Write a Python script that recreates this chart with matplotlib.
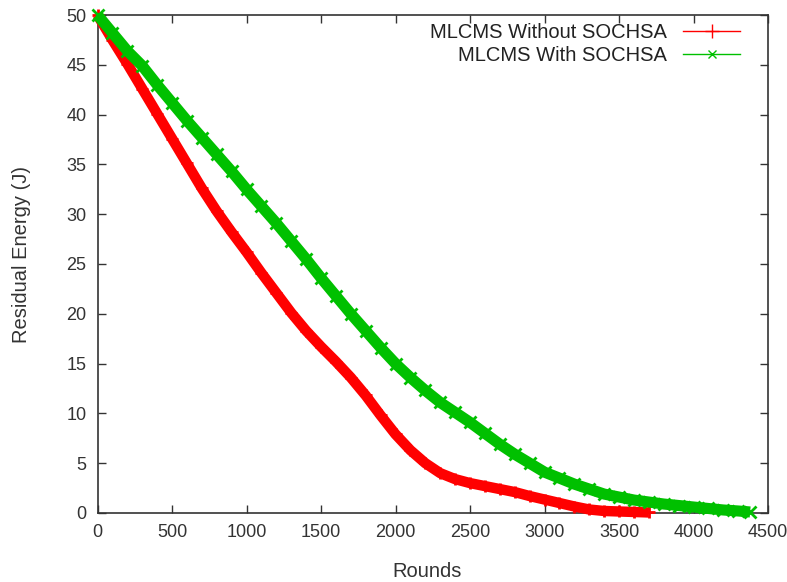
import matplotlib
matplotlib.use("Agg")
import matplotlib.pyplot as plt
from matplotlib.lines import Line2D

plt.rcParams['font.family'] = ['Liberation Sans', 'DejaVu Sans']

rounds_red = [0, 100, 200, 300, 400, 500, 600, 700, 800, 900, 1000, 1100, 1200, 1300,
              1400, 1500, 1600, 1700, 1800, 1900, 2000, 2100, 2200, 2300, 2400, 2500,
              2600, 2700, 2800, 2900, 3000, 3100, 3200, 3300, 3400, 3500, 3600, 3700]
energy_red = [50, 47.5, 45.1, 42.6, 40.1, 37.6, 35.1, 32.6, 30.3, 28.2, 26.2, 24.1, 22.1, 20.1,
              18.3, 16.7, 15.2, 13.6, 11.8, 9.8, 7.9, 6.3, 5.0, 4.0, 3.4, 3.0,
              2.7, 2.4, 2.1, 1.7, 1.35, 1.0, 0.65, 0.35, 0.2, 0.15, 0.1, 0.05]

rounds_green = [0, 100, 200, 300, 400, 500, 600, 700, 800, 900, 1000, 1100, 1200, 1300,
                1400, 1500, 1600, 1700, 1800, 1900, 2000, 2100, 2200, 2300, 2400, 2500,
                2600, 2700, 2800, 2900, 3000, 3100, 3200, 3300, 3400, 3500, 3600, 3700,
                3800, 3900, 4000, 4100, 4200, 4300, 4380]
energy_green = [50, 48.2, 46.4, 44.9, 43.0, 41.2, 39.4, 37.7, 36.0, 34.3, 32.5, 30.8, 29.1, 27.3,
                25.5, 23.6, 21.8, 20.0, 18.3, 16.6, 15.0, 13.6, 12.3, 11.1, 10.1, 9.1,
                8.0, 6.9, 5.9, 5.0, 4.1, 3.5, 2.9, 2.4, 1.9, 1.6, 1.3, 1.1,
                0.9, 0.75, 0.6, 0.45, 0.3, 0.2, 0.1]

labels = ["MLCMS Without SOCHSA", "MLCMS With SOCHSA"]
red = "#ff0000"
green = "#00c000"
txt = '#333333'

fig = plt.figure(figsize=(7.87, 5.82), dpi=100)
ax = fig.add_axes([0.1239, 0.1186, 0.9759 - 0.1239, 0.9742 - 0.1186])

ax.plot(rounds_red, energy_red, color=red, lw=7.5, solid_capstyle='butt', clip_on=False, zorder=3)
ax.plot(rounds_red, energy_red, color=red, lw=0, marker='+', ms=9, mew=2, clip_on=False, zorder=3)
ax.plot(rounds_green, energy_green, color=green, lw=8, solid_capstyle='butt', clip_on=False, zorder=4)
ax.plot(rounds_green, energy_green, color=green, lw=0, marker='x', ms=8, mew=2, clip_on=False, zorder=4)

ax.set_xlim(0, 4500)
ax.set_ylim(0, 50)
ax.set_xticks(range(0, 4501, 500))
ax.set_yticks(range(0, 51, 5))
ax.tick_params(direction='in', top=True, right=True, length=6, width=1, labelsize=13,
               colors=txt, pad=8)
for s in ax.spines.values():
    s.set_color(txt)
    s.set_linewidth(1.2)

ax.set_xlabel("Rounds", fontsize=14.5, color=txt)
ax.set_ylabel("Residual Energy (J)", fontsize=14.5, color=txt)
ax.xaxis.set_label_coords(0.491, -0.098)
ax.yaxis.set_label_coords(-0.099, 0.52)

handles = [Line2D([], [], color=red, lw=1, marker='+', ms=10, mew=1),
           Line2D([], [], color=green, lw=1, marker='x', ms=6, mew=1)]
leg = ax.legend(handles, labels, loc='upper right', frameon=False, markerfirst=False,
                numpoints=1, handlelength=2.8, fontsize=14.5, bbox_to_anchor=(0.985, 1.02),
                labelspacing=0.2, handletextpad=0.8)
for t in leg.get_texts():
    t.set_color('#222222')

fig.savefig("out.png", dpi=100)
